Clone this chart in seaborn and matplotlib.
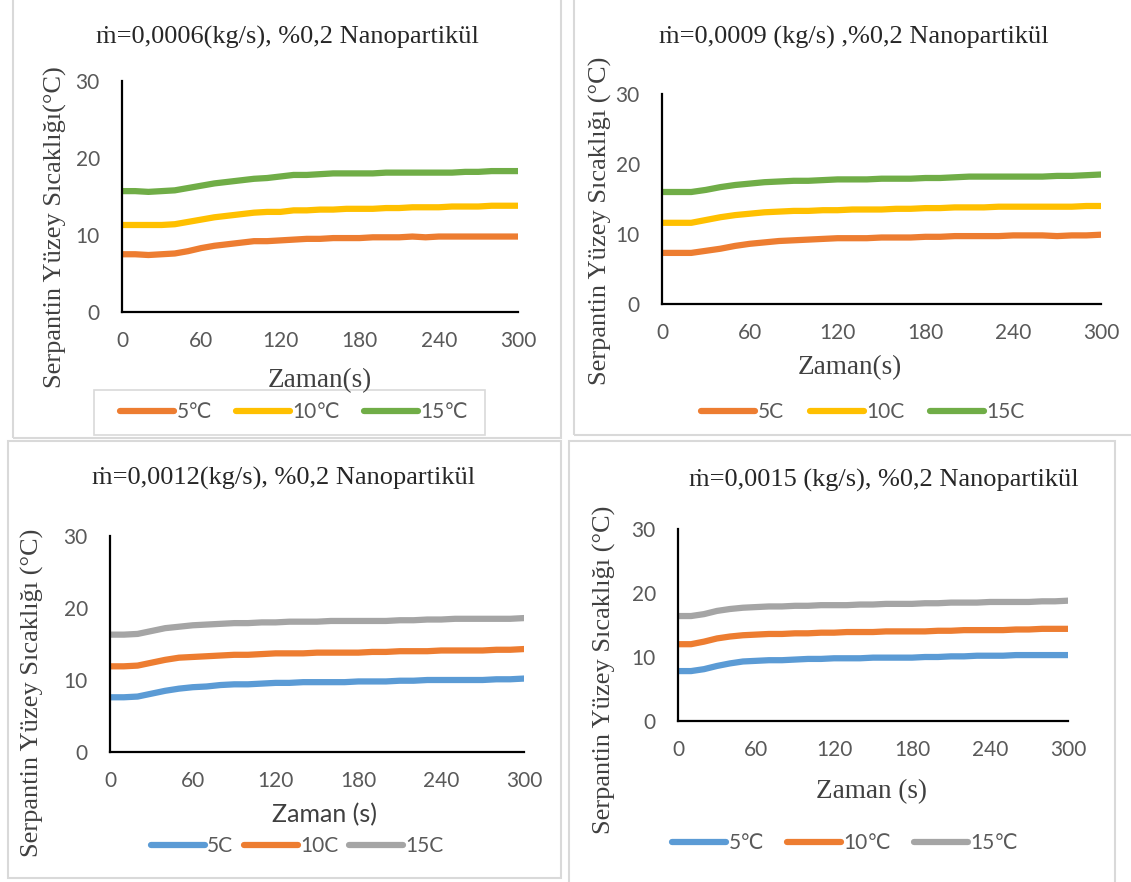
import numpy as np
import pandas as pd
import matplotlib
matplotlib.use('Agg')
import matplotlib.pyplot as plt
from matplotlib.patches import Rectangle
import seaborn as sns

# zaman (s)
t = [0, 10, 20, 30, 40, 50, 60, 70, 80, 90, 100, 110, 120, 130, 140, 150,
     160, 170, 180, 190, 200, 210, 220, 230, 240, 250, 260, 270, 280, 290, 300]

# m=0,0006 kg/s
p1_5 = [7.5, 7.5, 7.4, 7.5, 7.6, 7.9, 8.3, 8.6, 8.8, 9.0, 9.2, 9.2, 9.3, 9.4, 9.5, 9.5,
        9.6, 9.6, 9.6, 9.7, 9.7, 9.7, 9.8, 9.7, 9.8, 9.8, 9.8, 9.8, 9.8, 9.8, 9.8]
p1_10 = [11.3, 11.3, 11.3, 11.3, 11.4, 11.7, 12.0, 12.3, 12.5, 12.7, 12.9, 13.0, 13.0, 13.2, 13.2, 13.3,
         13.3, 13.4, 13.4, 13.4, 13.5, 13.5, 13.6, 13.6, 13.6, 13.7, 13.7, 13.7, 13.8, 13.8, 13.8]
p1_15 = [15.7, 15.7, 15.6, 15.7, 15.8, 16.1, 16.4, 16.7, 16.9, 17.1, 17.3, 17.4, 17.6, 17.8, 17.8, 17.9,
         18.0, 18.0, 18.0, 18.0, 18.1, 18.1, 18.1, 18.1, 18.1, 18.1, 18.2, 18.2, 18.3, 18.3, 18.3]
# m=0,0009 kg/s
p2_5 = [7.3, 7.3, 7.3, 7.6, 7.9, 8.3, 8.6, 8.8, 9.0, 9.1, 9.2, 9.3, 9.4, 9.4, 9.4, 9.5,
        9.5, 9.5, 9.6, 9.6, 9.7, 9.7, 9.7, 9.7, 9.8, 9.8, 9.8, 9.7, 9.8, 9.8, 9.9]
p2_10 = [11.6, 11.6, 11.6, 12.0, 12.4, 12.7, 12.9, 13.1, 13.2, 13.3, 13.3, 13.4, 13.4, 13.5, 13.5, 13.5,
         13.6, 13.6, 13.7, 13.7, 13.8, 13.8, 13.8, 13.9, 13.9, 13.9, 13.9, 13.9, 13.9, 14.0, 14.0]
p2_15 = [16.0, 16.0, 16.0, 16.3, 16.7, 17.0, 17.2, 17.4, 17.5, 17.6, 17.6, 17.7, 17.8, 17.8, 17.8, 17.9,
         17.9, 17.9, 18.0, 18.0, 18.1, 18.2, 18.2, 18.2, 18.2, 18.2, 18.2, 18.3, 18.3, 18.4, 18.5]
# m=0,0012 kg/s
p3_5 = [7.6, 7.6, 7.7, 8.1, 8.5, 8.8, 9.0, 9.1, 9.3, 9.4, 9.4, 9.5, 9.6, 9.6, 9.7, 9.7,
        9.7, 9.7, 9.8, 9.8, 9.8, 9.9, 9.9, 10.0, 10.0, 10.0, 10.0, 10.0, 10.1, 10.1, 10.2]
p3_10 = [11.9, 11.9, 12.0, 12.4, 12.8, 13.1, 13.2, 13.3, 13.4, 13.5, 13.5, 13.6, 13.7, 13.7, 13.7, 13.8,
         13.8, 13.8, 13.8, 13.9, 13.9, 14.0, 14.0, 14.0, 14.1, 14.1, 14.1, 14.1, 14.2, 14.2, 14.3]
p3_15 = [16.3, 16.3, 16.4, 16.8, 17.2, 17.4, 17.6, 17.7, 17.8, 17.9, 17.9, 18.0, 18.0, 18.1, 18.1, 18.1,
         18.2, 18.2, 18.2, 18.2, 18.2, 18.3, 18.3, 18.4, 18.4, 18.5, 18.5, 18.5, 18.5, 18.5, 18.6]
# m=0,0015 kg/s
p4_5 = [7.8, 7.8, 8.1, 8.6, 9.0, 9.3, 9.4, 9.5, 9.5, 9.6, 9.7, 9.7, 9.8, 9.8, 9.8, 9.9,
        9.9, 9.9, 9.9, 10.0, 10.0, 10.1, 10.1, 10.2, 10.2, 10.2, 10.3, 10.3, 10.3, 10.3, 10.3]
p4_10 = [12.0, 12.0, 12.4, 12.9, 13.2, 13.4, 13.5, 13.6, 13.6, 13.7, 13.7, 13.8, 13.8, 13.9, 13.9, 13.9,
         14.0, 14.0, 14.0, 14.0, 14.1, 14.1, 14.2, 14.2, 14.2, 14.2, 14.3, 14.3, 14.4, 14.4, 14.4]
p4_15 = [16.4, 16.4, 16.7, 17.2, 17.5, 17.7, 17.8, 17.9, 17.9, 18.0, 18.0, 18.1, 18.1, 18.1, 18.2, 18.2,
         18.3, 18.3, 18.3, 18.4, 18.4, 18.5, 18.5, 18.5, 18.6, 18.6, 18.6, 18.6, 18.7, 18.7, 18.8]

titles = ['ṁ=0,0006(kg/s), %0,2 Nanopartikül', 'ṁ=0,0009 (kg/s) ,%0,2 Nanopartikül',
          'ṁ=0,0012(kg/s), %0,2 Nanopartikül', 'ṁ=0,0015 (kg/s), %0,2 Nanopartikül']
ylabels = ['Serpantin Yüzey Sıcaklığı(°C)', 'Serpantin Yüzey Sıcaklığı (°C)',
           'Serpantin Yüzey Sıcaklığı (°C)', 'Serpantin Yüzey Sıcaklığı (°C)']
xlabels = ['Zaman(s)', 'Zaman(s)', 'Zaman (s)', 'Zaman (s)']
legend_labels = [['5℃', '10℃', '15℃'], ['5C', '10C', '15C'],
                 ['5C', '10C', '15C'], ['5℃', '10℃', '15℃']]
series = [[p1_5, p1_10, p1_15], [p2_5, p2_10, p2_15],
          [p3_5, p3_10, p3_15], [p4_5, p4_10, p4_15]]

orange, yellow, green, blue, gray = '#ED7D31', '#FFC000', '#70AD47', '#5B9BD5', '#A5A5A5'
palettes = [[orange, yellow, green], [orange, yellow, green],
            [blue, orange, gray], [blue, orange, gray]]

sns.set_style('white')
plt.rcParams['font.family'] = ['Lato', 'DejaVu Sans']
serif = ['Liberation Serif', 'DejaVu Serif']
sans = ['Lato', 'DejaVu Sans']

W, H = 1131, 882
fig = plt.figure(figsize=(W / 100, H / 100), dpi=100)

def fx(x):
    return x / W

def fy(y):
    return 1 - y / H

# pixel layout of each excel chart: axes box, frame, title, labels, legend
layout = [
    dict(ax=(122, 81, 518, 312), frame=(13, -2, 561, 438), title=(287, 37), ylab=(55, 227),
         xlab=(320, 381), xfont=serif, xsize=19.5, leg=(294, 412), colsp=1.15),
    dict(ax=(662, 94, 1101, 304), frame=(574, -2, 1140, 435), title=(854, 37), ylab=(600, 221),
         xlab=(850, 368), xfont=serif, xsize=19.5, leg=(863, 412), colsp=1.25),
    dict(ax=(110, 536, 524, 752), frame=(8, 441, 561, 878), title=(284, 478), ylab=(32, 693),
         xlab=(324, 815), xfont=sans, xsize=18, leg=(297, 846), colsp=0.5),
    dict(ax=(678, 529, 1068, 721), frame=(569, 441, 1115, 890), title=(884, 480), ylab=(604, 670),
         xlab=(872, 792), xfont=serif, xsize=19.5, leg=(845, 843), colsp=1.1),
]

for i, lay in enumerate(layout):
    l, tp, r, b = lay['ax']
    fl, ft, fr, fb = lay['frame']
    fig.add_artist(Rectangle((fx(fl), fy(fb)), fx(fr - fl), (fb - ft) / H, transform=fig.transFigure,
                             fill=False, edgecolor='#d9d9d9', lw=1.5, zorder=0))
    ax = fig.add_axes([fx(l), fy(b), fx(r - l), (b - tp) / H])
    df = pd.DataFrame({'t': t * 3,
                       'T': series[i][0] + series[i][1] + series[i][2],
                       'seri': [legend_labels[i][0]] * len(t) + [legend_labels[i][1]] * len(t)
                               + [legend_labels[i][2]] * len(t)})
    sns.lineplot(data=df, x='t', y='T', hue='seri', palette=palettes[i], linewidth=4.5,
                 ax=ax, legend=False)
    ax.set_xlim(0, 300)
    ax.set_ylim(0, 30)
    ax.set_xticks([0, 60, 120, 180, 240, 300])
    ax.set_yticks([0, 10, 20, 30])
    ax.tick_params(length=0, labelsize=15, colors='#595959', pad=14)
    ax.tick_params(axis='y', pad=16)
    for s in ['top', 'right']:
        ax.spines[s].set_visible(False)
    for s in ['left', 'bottom']:
        ax.spines[s].set_color('black')
        ax.spines[s].set_linewidth(1.6)
    ax.set_xlabel('')
    ax.set_ylabel('')
    fig.text(fx(lay['title'][0]), fy(lay['title'][1]), titles[i], family=serif, fontsize=19,
             color='#262626', ha='center', va='center')
    fig.text(fx(lay['ylab'][0]), fy(lay['ylab'][1]), ylabels[i], family=serif, fontsize=19,
             color='#404040', rotation=90, ha='center', va='center')
    fig.text(fx(lay['xlab'][0]), fy(lay['xlab'][1]), xlabels[i], family=lay['xfont'],
             fontsize=lay['xsize'], color='#404040', ha='center', va='center')
    handles = ax.get_lines()[:3]
    fig.legend(handles, legend_labels[i], loc='center', ncol=3, frameon=False,
               bbox_to_anchor=(fx(lay['leg'][0]), fy(lay['leg'][1])), fontsize=15,
               labelcolor='#595959', handlelength=2.6, handletextpad=0.1,
               columnspacing=lay['colsp'], borderpad=0)

# legend box of first chart sits over the axis title
fig.add_artist(Rectangle((fx(94), fy(435)), fx(485 - 94), 45 / H, transform=fig.transFigure,
                         facecolor='white', edgecolor='#d9d9d9', lw=1.2, zorder=2))

fig.savefig('out.png', dpi=100)
